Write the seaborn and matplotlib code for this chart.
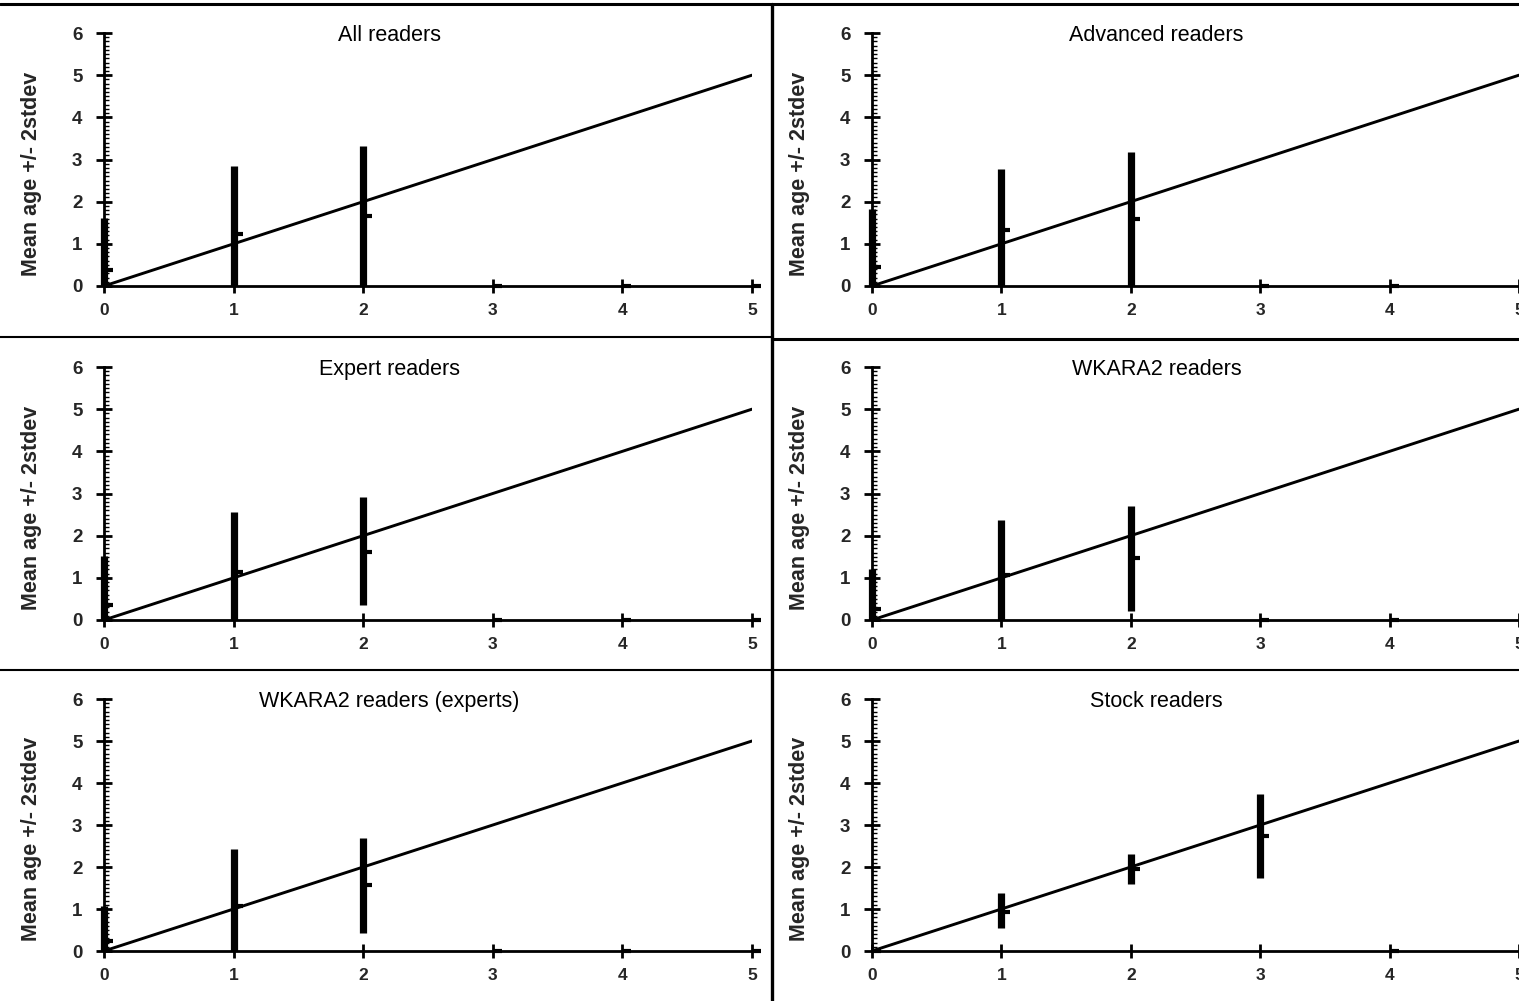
import matplotlib
matplotlib.use("Agg")
import matplotlib.pyplot as plt
import seaborn as sns
import numpy as np
from matplotlib.lines import Line2D
from matplotlib.ticker import MultipleLocator

sns.set_style("white")
plt.rcParams['font.family'] = ['Liberation Sans', 'DejaVu Sans']

# ---- data ----
x_vals = [0, 1, 2, 3, 4, 5]
identity_x = [0, 5]
identity_y = [0, 5]

titles = ["All readers", "Advanced readers", "Expert readers",
          "WKARA2 readers", "WKARA2 readers (experts)", "Stock readers"]

high_all = [1.62, 2.84, 3.31, 0, 0, 0]
low_all = [0, 0, 0, 0, 0, 0]
close_all = [0.38, 1.24, 1.66, 0, 0, 0]

high_adv = [1.83, 2.77, 3.17, 0, 0, 0]
low_adv = [0, 0, 0, 0, 0, 0]
close_adv = [0.45, 1.32, 1.6, 0, 0, 0]

high_exp = [1.52, 2.55, 2.92, 0, 0, 0]
low_exp = [0, 0, 0.36, 0, 0, 0]
close_exp = [0.35, 1.13, 1.61, 0, 0, 0]

high_wk = [1.2, 2.38, 2.71, 0, 0, 0]
low_wk = [0, 0, 0.22, 0, 0, 0]
close_wk = [0.26, 1.07, 1.48, 0, 0, 0]

high_wke = [1.07, 2.42, 2.69, 0, 0, 0]
low_wke = [0, 0, 0.42, 0, 0, 0]
close_wke = [0.24, 1.06, 1.56, 0, 0, 0]

high_stock = [0, 1.37, 2.32, 3.75, 0, 0]
low_stock = [0, 0.55, 1.6, 1.75, 0, 0]
close_stock = [0, 0.94, 1.96, 2.75, 0, 0]

highs = [high_all, high_adv, high_exp, high_wk, high_wke, high_stock]
lows = [low_all, low_adv, low_exp, low_wk, low_wke, low_stock]
closes = [close_all, close_adv, close_exp, close_wk, close_wke, close_stock]

y_ticks = [0, 1, 2, 3, 4, 5, 6]
x_ticks = [0, 1, 2, 3, 4, 5]
ylabel = "Mean age +/- 2stdev"

# ---- layout (pixels) ----
W, H = 1519, 1001
fig = plt.figure(figsize=(W / 100, H / 100), dpi=100)
fig.patch.set_facecolor("white")

col_x = [104, 872]
col_w = [648, 647]
row_top = [33, 367, 699]
row_bot = [286, 620, 951]

for i in range(6):
    r, c = divmod(i, 2)
    left = col_x[c] / W
    width = col_w[c] / W
    bottom = 1 - row_bot[r] / H
    height = (row_bot[r] - row_top[r]) / H
    ax = fig.add_axes([left, bottom, width, height])
    ax.set_facecolor("none")

    sns.lineplot(x=identity_x, y=identity_y, ax=ax, color="black",
                 linewidth=2.1, zorder=3)

    ax.vlines(x_vals, lows[i], highs[i], colors="black", linewidth=5.2,
              capstyle="butt", zorder=4, clip_on=False)
    ax.hlines(closes[i], np.array(x_vals), np.array(x_vals) + 0.07,
              colors="black", linewidth=3.0, zorder=4, clip_on=False)

    ax.set_xlim(0, 5)
    ax.set_ylim(0, 6)
    ax.set_xticks(x_ticks)
    ax.set_yticks(y_ticks)
    ax.yaxis.set_minor_locator(MultipleLocator(0.1))

    for s in ["top", "right"]:
        ax.spines[s].set_visible(False)
    for s in ["left", "bottom"]:
        ax.spines[s].set_color("black")
        ax.spines[s].set_linewidth(2.0)
        ax.spines[s].set_zorder(5)

    ax.tick_params(axis="y", which="major", direction="inout", length=11,
                   width=2.0, color="black", pad=10, labelsize=13.5,
                   left=True)
    ax.tick_params(axis="y", which="minor", direction="in", length=3.5,
                   width=1.0, color="black", left=True)
    ax.tick_params(axis="x", which="major", direction="inout", length=10,
                   width=2.0, color="black", pad=7, labelsize=12.5,
                   bottom=True)
    for lab in ax.get_xticklabels() + ax.get_yticklabels():
        lab.set_fontweight("bold")

    ax.set_xlabel("")
    ax.set_ylabel(ylabel, fontsize=15.5, fontweight="bold")
    ax.yaxis.set_label_coords(-0.096, 0.445)

    ax.text(2.2, 5.93, titles[i], ha="center", va="center", fontsize=15.5,
            color="black")

# ---- panel separators (figure pixels) ----
def fline(x0, y0, x1, y1, lw):
    fig.add_artist(Line2D([x0 / W, x1 / W], [1 - y0 / H, 1 - y1 / H],
                          color="black", linewidth=lw,
                          transform=fig.transFigure))

fline(0, 4, W, 4, 2.2)
fline(772, 4, 772, H, 2.4)
fline(0, 337, 772, 337, 1.5)
fline(772, 339, W, 339, 2.2)
fline(0, 670, W, 670, 1.5)

fig.savefig("out.png", dpi=100)
